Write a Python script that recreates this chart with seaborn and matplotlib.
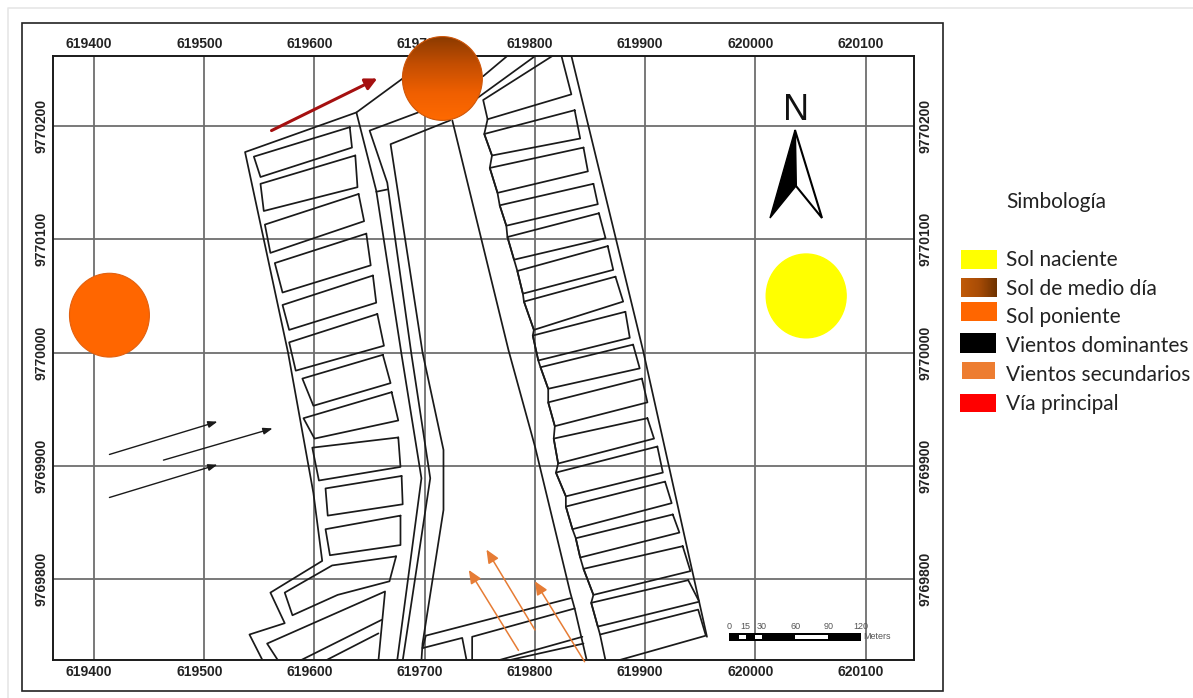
import numpy as np
import pandas as pd
import seaborn as sns
import matplotlib.pyplot as plt
from matplotlib.patches import Ellipse, Rectangle
from matplotlib.transforms import Affine2D, ScaledTranslation

# map coordinates are kept relative to this origin (UTM metres)
E0 = 619000
N0 = 9769000

x_ticks = [619400, 619500, 619600, 619700, 619800, 619900, 620000, 620100]
y_ticks = [9769800, 9769900, 9770000, 9770100, 9770200]
x_tick_labels = ['619400', '619500', '619600', '619700', '619800', '619900', '620000', '620100']
y_tick_labels = ['9769800', '9769900', '9770000', '9770100', '9770200']

# parcels west of the road
west_lots = [
    [(632, 1199), (634, 1181), (551, 1155), (545, 1173)],
    [(637, 1174), (639, 1146), (554, 1125), (551, 1149)],
    [(640, 1140), (645, 1116), (560, 1088), (555, 1113)],
    [(647, 1105), (651, 1077), (571, 1053), (564, 1079)],
    [(653, 1068), (656, 1044), (577, 1020), (571, 1042)],
    [(657, 1034), (663, 1006), (583, 984), (577, 1009)],
    [(662, 998), (669, 973), (599, 953), (589, 977)],
    [(670, 965), (676, 940), (600, 924), (590, 942)],
    [(676, 925), (678, 899), (604, 887), (598, 916)],
    [(679, 891), (680, 866), (612, 856), (610, 880)],
    [(678, 856), (678, 830), (614, 821), (610, 844)],
    [(674, 820), (668, 798), (621, 786), (580, 768), (573, 788), (616, 812)],
]

# parcels east of the road
east_lots = [
    [(836, 1214), (841, 1189), (761, 1174), (754, 1193)],
    [(844, 1181), (848, 1160), (766, 1141), (759, 1163)],
    [(853, 1149), (857, 1131), (774, 1112), (768, 1130)],
    [(858, 1123), (864, 1101), (781, 1082), (775, 1102)],
    [(866, 1094), (871, 1073), (789, 1052), (784, 1072)],
    [(873, 1067), (880, 1045), (799, 1020), (790, 1045)],
    [(882, 1036), (886, 1013), (803, 993), (798, 1015)],
    [(889, 1007), (895, 986), (812, 968), (805, 987)],
    [(897, 977), (902, 956), (818, 935), (812, 956)],
    [(902, 942), (908, 924), (821, 902), (817, 924)],
    [(911, 917), (916, 894), (828, 873), (819, 894)],
    [(918, 886), (924, 867), (834, 844), (828, 864)],
    [(925, 857), (931, 841), (841, 819), (837, 836)],
    [(934, 829), (941, 807), (853, 786), (844, 809)],
    [(939, 799), (949, 780), (857, 758), (851, 779)],
]

# open lines: block outlines, road edges, southern block
west_outline = [(680, 1242), (638, 1212), (537, 1177), (576, 1000), (599, 876), (607, 816),
                (560, 788), (573, 761), (541, 751), (553, 728)]
road_edge_1 = [(638, 1212), (656, 1143), (679, 998), (697, 889), (675, 728)]
road_edge_2 = [(694, 1212), (650, 1196), (666, 1150), (688, 998), (705, 889), (680, 728)]
road_edge_3 = [(723, 1205), (669, 1184), (698, 1000), (717, 914), (717, 861), (698, 743), (697, 728)]
road_cross = [(656, 1142), (666, 1144)]
east_road = [(725, 1205), (776, 1002), (800, 917), (832, 788), (836, 774), (847, 728)]
east_outline = [(833, 1262), (898, 1002), (956, 749)]
north_lot = [(816, 1262), (753, 1223), (757, 1206), (833, 1228), (824, 1262)]
north_line_1 = [(753, 1244), (775, 1262)]
north_line_2 = [(741, 1220), (799, 1261)]
last_lot = [(875, 728), (955, 750), (948, 773), (859, 751), (864, 728)]
sw_block = [(658, 728), (664, 789), (557, 743), (567, 728)]
sw_inner_1 = [(661, 764), (587, 728)]
sw_inner_2 = [(658, 752), (610, 728)]
south_1 = [(832, 783), (701, 750), (698, 739)]
south_2 = [(836, 774), (743, 749), (743, 728)]
south_3 = [(698, 739), (734, 748), (738, 728)]
south_4 = [(843, 749), (766, 728)]
south_5 = [(844, 743), (775, 728)]

# (start, tip) of the wind and road arrows
road_arrow = [((561, 1196), (657, 1242))]
main_wind = [((414, 910), (512, 939)), ((463, 905), (562, 933)), ((414, 872), (512, 901))]
second_wind = [((785, 737), (740, 808)), ((800, 755), (756, 826)), ((845, 727), (800, 798))]

sun_rise = (1046, 1050)
sun_noon = (716, 1242)
sun_set = (414, 1033)

scale_marks = [0, 15, 30, 60, 90, 120]
scale_white = [(9, 15), (24, 30), (60, 90)]

legend_title = 'Simbología'
legend_labels = ['Sol naciente', 'Sol de medio día', 'Sol poniente',
                 'Vientos dominantes', 'Vientos secundarios', 'Vía principal']
legend_colors = ['#ffff00', None, '#ff6600', '#000000', '#ed7d31', '#ff0000']

sns.set_style('white')
plt.rcParams['font.family'] = ['Liberation Sans', 'DejaVu Sans']

fig = plt.figure(figsize=(11.93, 6.98), dpi=100)
ax = fig.add_axes([53 / 1193, 1 - 660 / 698, 861 / 1193, 604.5 / 698])
# furniture outside the map is placed in image pixels
px = Affine2D().scale(1 / 1193, -1 / 698).translate(0, 1) + fig.transFigure


def to_rows(name, pts, closed=False):
    pts = list(pts) + [pts[0]] if closed else pts
    return [{'part': name, 'E': E0 + e, 'N': N0 + n} for e, n in pts]


rows = []
for i, lot in enumerate(west_lots):
    rows += to_rows(f'west{i}', lot, closed=True)
for i, lot in enumerate(east_lots):
    rows += to_rows(f'east{i}', lot, closed=True)
# lots on the east side hang on one continuous back line
back_line = [north_lot[2]]
for lot in east_lots:
    back_line += [lot[3], lot[2]]
back_line.append(last_lot[3])
rows += to_rows('back', back_line)
open_lines = [west_outline, road_edge_1, road_edge_2, road_edge_3, road_cross, east_road,
              east_outline, north_lot, north_line_1, north_line_2, last_lot, sw_block,
              sw_inner_1, sw_inner_2, south_1, south_2, south_3, south_4, south_5]
for i, line in enumerate(open_lines):
    rows += to_rows(f'line{i}', line)
df = pd.DataFrame(rows)

sns.lineplot(data=df, x='E', y='N', units='part', estimator=None, sort=False,
             color='#1a1a1a', linewidth=1.25, ax=ax, legend=False)

ax.set_xlim(619362.8, 620143.8)
ax.set_ylim(9769728.5, 9770262.3)
ax.set_xlabel('')
ax.set_ylabel('')
ax.set_xticks(x_ticks, x_tick_labels)
ax.set_yticks(y_ticks, y_tick_labels)
ax.set_axisbelow(True)
ax.grid(True, color='#6e6e6e', linewidth=1.3)
ax.tick_params(axis='both', length=0, labelsize=10, labeltop=True, labelbottom=True,
               labelleft=True, labelright=True)
ax.tick_params(axis='x', pad=3.5)
ax.tick_params(axis='y', pad=3.5)
shift = ScaledTranslation(-5 / 100, 0, fig.dpi_scale_trans)
# get_xticklabels gives both the bottom and the top labels here
for lbl in ax.get_xticklabels():
    lbl.set_fontweight('bold')
    lbl.set_color('#222222')
    lbl.set_transform(lbl.get_transform() + shift)
for lbl in ax.get_yticklabels():
    lbl.set_fontweight('bold')
    lbl.set_color('#222222')
    lbl.set_rotation(90)
    lbl.set_va('center')
for side in ax.spines.values():
    side.set_color('#1a1a1a')
    side.set_linewidth(1.4)

# arrows
for arrows, col, lw, head in [(road_arrow, '#a51010', 2.2, 'head_length=0.7,head_width=0.35'),
                              (main_wind, '#1a1a1a', 1.0, 'head_length=0.55,head_width=0.2'),
                              (second_wind, '#e67c35', 1.1, 'head_length=0.8,head_width=0.35')]:
    for (x0, y0), (x1, y1) in arrows:
        ax.annotate('', xy=(E0 + x1, N0 + y1), xytext=(E0 + x0, N0 + y0),
                    arrowprops=dict(arrowstyle='-|>,' + head, color=col, lw=lw,
                                    shrinkA=0, shrinkB=0), zorder=4)

# the three suns
ax.add_patch(Ellipse((E0 + sun_rise[0], N0 + sun_rise[1]), 72.5, 74, color='#ffff00', zorder=5))
ax.add_patch(Ellipse((E0 + sun_set[0], N0 + sun_set[1]), 72.5, 74, facecolor='#ff6600',
                     edgecolor='#e2600f', linewidth=0.8, zorder=5))
noon_shape = Ellipse((E0 + sun_noon[0], N0 + sun_noon[1]), 72.5, 74, facecolor='none',
                     edgecolor='#cf5608', linewidth=0.8, zorder=6, clip_on=False)
ax.add_patch(noon_shape)
noon_cmap = sns.blend_palette(['#8a3a00', '#c44e02', '#ef5f00', '#ff6a00'], as_cmap=True)
gradient = np.linspace(0, 1, 256).reshape(-1, 1)
noon_img = ax.imshow(gradient, cmap=noon_cmap, aspect='auto', zorder=5,
                     extent=[E0 + sun_noon[0] - 37, E0 + sun_noon[0] + 37,
                             N0 + sun_noon[1] - 37.5, N0 + sun_noon[1] + 37.5])
noon_img.set_clip_box(fig.bbox)
noon_img.set_clip_path(noon_shape)
ax.set_xlim(619362.8, 620143.8)
ax.set_ylim(9769728.5, 9770262.3)

# scale bar, true to the map scale
bar_x = E0 + 976
bar_y = N0 + 749
ax.add_patch(Rectangle((bar_x, bar_y - 3.5), scale_marks[-1], 7, color='black', lw=0, zorder=4))
for a, b in scale_white:
    ax.add_patch(Rectangle((bar_x + a, bar_y - 1.8), b - a, 3.6, color='white', lw=0, zorder=4))
for m in scale_marks:
    ax.text(bar_x + m, bar_y + 9, str(m), fontsize=6.5, color='#555555', ha='center', va='center')
ax.text(bar_x + scale_marks[-1] + 2, bar_y, 'Meters', fontsize=6.5, color='#555555',
        ha='left', va='center')

# north arrow
fig.text(796.5, 111, 'N', transform=px, fontsize=26, color='#111111', ha='center', va='center',
         family='Liberation Sans')
fig.add_artist(plt.Polygon([(795, 130), (770, 218), (796, 186)], closed=True, transform=px,
                           facecolor='black', edgecolor='black', lw=1))
fig.add_artist(plt.Polygon([(795, 130), (822, 218), (796, 186)], closed=True, transform=px,
                           facecolor='white', edgecolor='black', lw=1.5))

# outer frames
fig.add_artist(Rectangle((22, 23), 921, 668, transform=px, fill=False, edgecolor='#222222', lw=1.2))
fig.add_artist(plt.Line2D([8, 8, 1193], [698, 8, 8], transform=px, color='#e6e6e6', lw=1.2))

# hand-made legend
fig.text(1006, 202, legend_title, transform=px, fontsize=15, family='Lato', color='#222222', va='center')
swatch_boxes = [(961, 250, 36, 19), (961, 278, 36, 19), (961, 302, 36, 19),
                (960, 333, 36, 20), (962, 362, 33, 17), (960, 394, 36, 18)]
label_y = [260, 289, 317, 346, 375, 404]
for lab, col, box, y in zip(legend_labels, legend_colors, swatch_boxes, label_y):
    x, top, w, h = box
    if col is None:
        sw = fig.add_axes([x / 1193, 1 - (top + h) / 698, w / 1193, h / 698])
        ramp = np.linspace(0, 1, 64).reshape(1, -1)
        sw.imshow(ramp, aspect='auto',
                  cmap=sns.blend_palette(['#c05a08', '#a84c06', '#6e3200'], as_cmap=True))
        sw.axis('off')
    else:
        fig.add_artist(Rectangle((x, top), w, h, transform=px, facecolor=col, edgecolor='none'))
    fig.text(1006, y, lab, transform=px, fontsize=15, family='Lato', color='#222222', va='center')

fig.savefig('out.png', dpi=100)
